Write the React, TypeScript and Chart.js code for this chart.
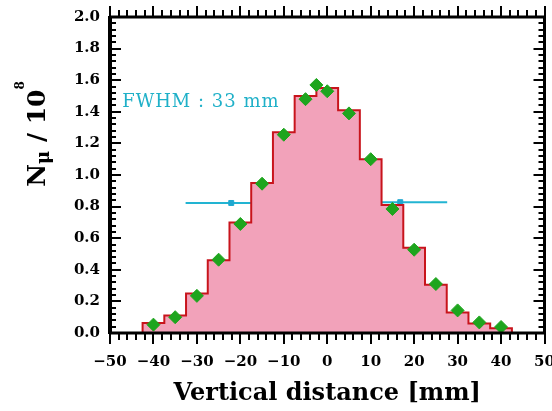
import React, { useEffect, useRef } from "react";
import { Chart, registerables } from "chart.js";

Chart.register(...registerables);

// ---- data ----
const binEdges = [-42.5, -37.5, -32.5, -27.5, -22.5, -17.5, -12.5, -7.5, -2.5, 2.5, 7.5, 12.5, 17.5, 22.5, 27.5, 32.5, 37.5, 42.5];
const binValues = [0.063, 0.11, 0.25, 0.46, 0.70, 0.95, 1.27, 1.50, 1.55, 1.41, 1.10, 0.81, 0.54, 0.305, 0.13, 0.06, 0.03];

const pointX = [-40, -35, -30, -25, -20, -15, -10, -5, -2.5, 0, 5, 10, 15, 20, 25, 30, 35, 40];
const pointY = [0.053, 0.10, 0.235, 0.464, 0.69, 0.945, 1.255, 1.48, 1.57, 1.53, 1.39, 1.10, 0.785, 0.527, 0.31, 0.143, 0.067, 0.038];

const fwhmX = [-22.1, 16.8];
const fwhmY = [0.823, 0.828];
const fwhmErr = [10.5, 10.8];

const xMin = -50;
const xMax = 50;
const xStep = 10;
const yMin = 0;
const yMax = 2;
const yStep = 0.2;

const xTitle = "Vertical distance [mm]";
const yTitleMain = "N";
const yTitleSub = "μ";
const yTitleMid = " / 10";
const yTitleSup = "8";
const fwhmLabel = "FWHM : 33 mm";
const fwhmLabelAt = { x: -47.2, y: 1.46 };

const SERIF = "'DejaVu Serif', serif";

const framePlugin = {
  id: "frame",
  afterDatasetsDraw(chart: any) {
    const { ctx, chartArea: a, scales } = chart;
    const xs = scales.x;
    const ys = scales.y;
    ctx.save();
    ctx.strokeStyle = "#000";
    ctx.lineWidth = 2;
    const seg = (x1: number, y1: number, x2: number, y2: number) => {
      ctx.beginPath();
      ctx.moveTo(x1, y1);
      ctx.lineTo(x2, y2);
      ctx.stroke();
    };
    // x ticks (outward, top & bottom)
    for (let i = 0; i <= 50; i++) {
      const v = xMin + i * 2;
      const px = Math.round(xs.getPixelForValue(v));
      const major = i % 5 === 0;
      const len = major ? 11 : 7;
      seg(px, a.bottom, px, a.bottom + len);
      seg(px, a.top, px, a.top - len);
    }
    // y ticks (inward, left & right)
    for (let i = 0; i <= 50; i++) {
      const v = yMin + i * 0.04;
      const py = Math.round(ys.getPixelForValue(v));
      const major = i % 5 === 0;
      const len = major ? 11 : 6;
      seg(a.left, py, a.left + len, py);
      seg(a.right, py, a.right - len, py);
    }
    // frame
    ctx.lineWidth = 3;
    seg(a.left - 1, a.top, a.right + 1, a.top);
    seg(a.right, a.top, a.right, a.bottom);
    seg(a.left - 1, a.bottom, a.right + 1, a.bottom);
    ctx.lineWidth = 4;
    seg(a.left, a.top - 1, a.left, a.bottom + 1);

    // FWHM label
    ctx.fillStyle = "#1fb0c8";
    ctx.font = `18px ${SERIF}`;
    try {
      (ctx as any).letterSpacing = "1px";
    } catch (e) {
      /* ignore */
    }
    ctx.textAlign = "left";
    ctx.textBaseline = "middle";
    ctx.fillText(fwhmLabel, xs.getPixelForValue(fwhmLabelAt.x), ys.getPixelForValue(fwhmLabelAt.y));
    try {
      (ctx as any).letterSpacing = "0px";
    } catch (e) {
      /* ignore */
    }

    // y title (rotated)
    ctx.fillStyle = "#000";
    ctx.translate(36, 134);
    ctx.rotate(-Math.PI / 2);
    ctx.textAlign = "left";
    ctx.textBaseline = "alphabetic";
    const fMain = `bold 25px ${SERIF}`;
    const fSub = `bold 18px ${SERIF}`;
    const fSup = `bold 12px ${SERIF}`;
    ctx.font = fMain;
    const w1 = ctx.measureText(yTitleMain).width;
    const w3 = ctx.measureText(yTitleMid).width;
    ctx.font = fSub;
    const w2 = ctx.measureText(yTitleSub).width;
    ctx.font = fSup;
    const w4 = ctx.measureText(yTitleSup).width;
    let tx = -(w1 + w2 + w3 + w4) / 2;
    ctx.font = fMain;
    ctx.fillText(yTitleMain, tx, 9);
    tx += w1;
    ctx.font = fSub;
    ctx.fillText(yTitleSub, tx, 13);
    tx += w2;
    ctx.font = fMain;
    ctx.fillText(yTitleMid, tx, 9);
    tx += w3;
    ctx.font = fSup;
    ctx.fillText(yTitleSup, tx, -12);
    ctx.restore();
  },
};

export default function App() {
  const ref = useRef<HTMLCanvasElement | null>(null);

  useEffect(() => {
    if (!ref.current) return;

    const histPoints: { x: number; y: number }[] = [{ x: binEdges[0], y: 0 }];
    binValues.forEach((v, i) => {
      histPoints.push({ x: binEdges[i], y: v }, { x: binEdges[i + 1], y: v });
    });
    histPoints.push({ x: binEdges[binEdges.length - 1], y: 0 });

    const diamonds = pointX.map((x, i) => ({ x, y: pointY[i] }));
    const fwhmPts = fwhmX.map((x, i) => ({ x, y: fwhmY[i] }));
    const errSets = fwhmX.map((x, i) => ({
      data: [
        { x: x - fwhmErr[i], y: fwhmY[i] },
        { x: x + fwhmErr[i], y: fwhmY[i] },
      ],
      showLine: true,
      borderColor: "#22b4d2",
      borderWidth: 2,
      pointRadius: 0,
      fill: false,
      order: 3,
    }));

    const chart = new Chart(ref.current, {
      type: "scatter",
      data: {
        datasets: [
          {
            data: diamonds,
            pointStyle: "rectRot",
            pointRadius: 6.5,
            pointBackgroundColor: "#1ea51e",
            pointBorderColor: "#1ea51e",
            pointBorderWidth: 1,
            showLine: false,
            order: 0,
          },
          {
            data: histPoints,
            showLine: true,
            borderColor: "#c8141c",
            borderWidth: 2,
            backgroundColor: "#f2a2ba",
            fill: "origin",
            pointRadius: 0,
            tension: 0,
            order: 1,
          },
          {
            data: fwhmPts,
            pointStyle: "rect",
            pointRadius: 3.5,
            pointBackgroundColor: "#1fa8d0",
            pointBorderColor: "#1fa8d0",
            showLine: false,
            order: 2,
          },
          ...errSets,
        ] as any,
      },
      options: {
        animation: false,
        responsive: false,
        maintainAspectRatio: false,
        layout: { padding: { left: 0, right: 5, top: 17, bottom: 0 } },
        plugins: {
          legend: { display: false },
          tooltip: { enabled: false },
        },
        scales: {
          x: {
            type: "linear",
            min: xMin,
            max: xMax,
            grid: { display: false, drawTicks: false },
            border: { display: false },
            ticks: {
              stepSize: xStep,
              padding: 20,
              color: "#000",
              font: { family: SERIF, size: 15, weight: "bold" },
              maxRotation: 0,
              callback: (v: any) => (Number(v) < 0 ? "\u2212" + Math.abs(Number(v)) : String(v)),
            },
            title: {
              display: true,
              text: xTitle,
              color: "#000",
              font: { family: SERIF, size: 24, weight: "bold" },
              padding: { top: 0, bottom: 3 },
            },
            afterFit: (s: any) => {
              s.height = 78;
              s.paddingLeft = 0;
              s.paddingRight = 0;
            },
          },
          y: {
            type: "linear",
            min: yMin,
            max: yMax,
            grid: { display: false, drawTicks: false },
            border: { display: false },
            ticks: {
              stepSize: yStep,
              padding: 10,
              color: "#000",
              font: { family: SERIF, size: 15, weight: "bold" },
              callback: (v: any) => Number(v).toFixed(1),
            },
            afterFit: (s: any) => {
              s.width = 110;
              s.paddingTop = 0;
              s.paddingBottom = 0;
            },
          },
        },
      } as any,
      plugins: [framePlugin],
    });

    return () => chart.destroy();
  }, []);

  return (
    <div style={{ position: "fixed", left: 0, top: 0, width: 552, height: 411, background: "#fff" }}>
      <canvas ref={ref} width={552} height={411} style={{ width: 552, height: 411, display: "block" }} />
    </div>
  );
}
